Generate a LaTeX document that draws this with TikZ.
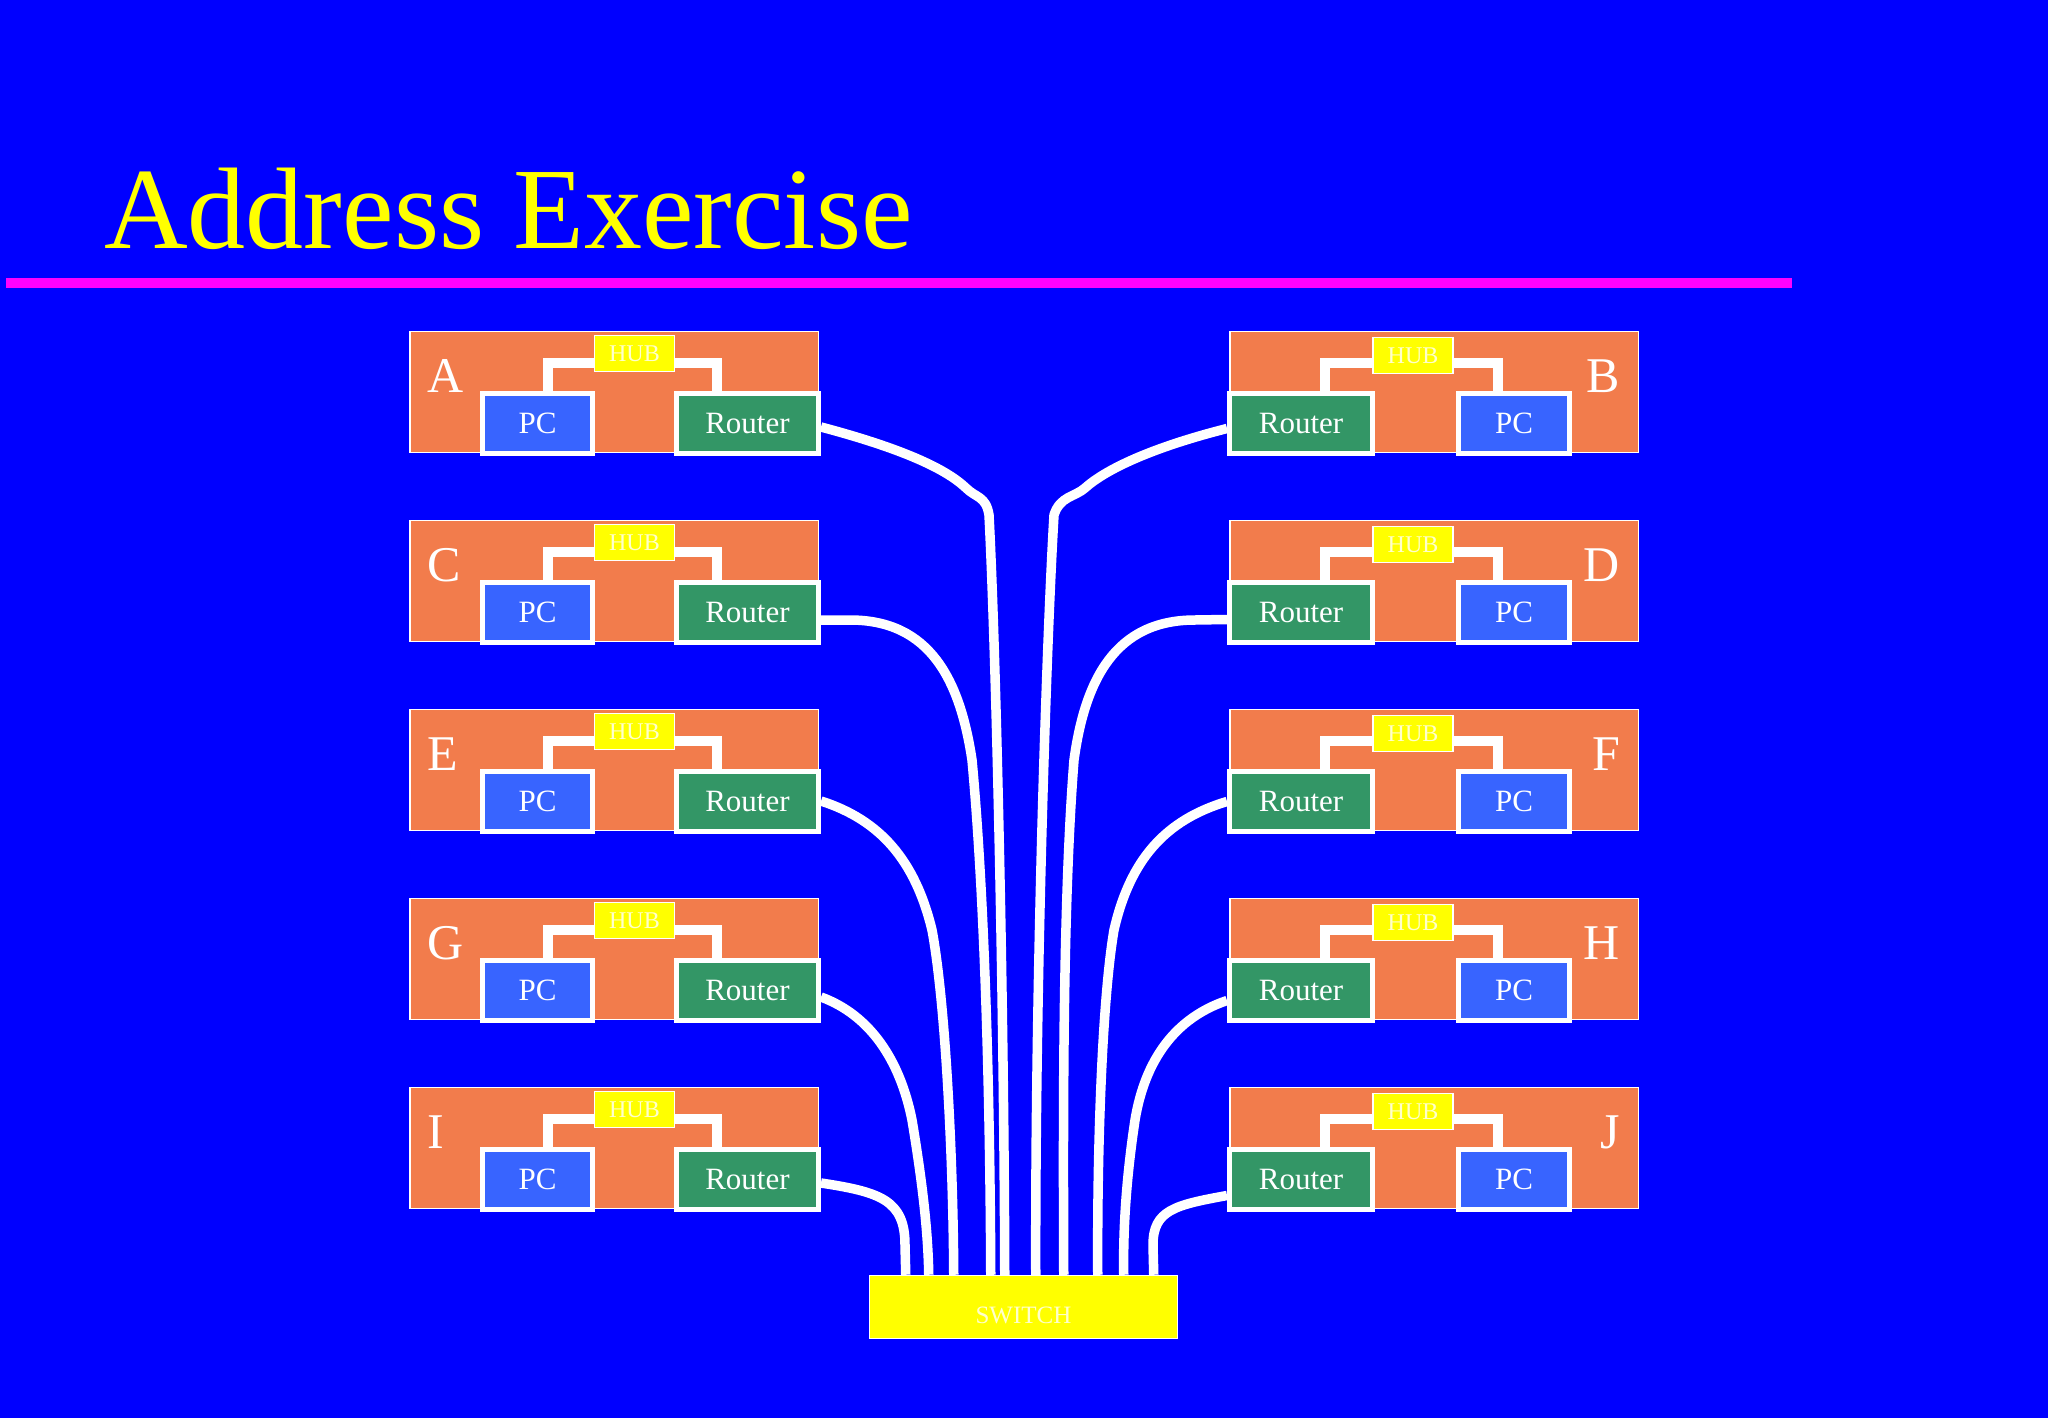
\documentclass[tikz,border=0pt]{standalone}
\usepackage{fontspec}
\setmainfont{Liberation Serif}
\usetikzlibrary{calc}
\definecolor{bg}{RGB}{0,0,255}
\definecolor{org}{RGB}{242,124,76}
\definecolor{pcblue}{RGB}{56,100,255}
\definecolor{rtgreen}{RGB}{51,150,102}
\definecolor{hubyel}{RGB}{255,255,0}
\definecolor{hubtxt}{RGB}{255,255,205}
\definecolor{mag}{RGB}{255,0,255}
\begin{document}
\begin{tikzpicture}[x=1pt,y=-1pt,
 block/.style={draw=white, line width=1.5pt, fill=org, minimum width=408.5pt, minimum height=121pt, inner sep=0pt},
 pcbox/.style={draw=white, line width=5pt, fill=pcblue, text=white, minimum width=110pt, minimum height=60pt, inner sep=0pt, font=\fontsize{31}{31}\selectfont},
 rtbox/.style={pcbox, fill=rtgreen, minimum width=142pt},
 hubbox/.style={draw=white, line width=1.5pt, fill=hubyel, text=hubtxt, minimum width=80pt, minimum height=36pt, inner sep=0pt, font=\fontsize{24}{24}\selectfont},
 letter/.style={text=white, inner sep=0pt, font=\fontsize{50}{50}\selectfont},
 wire/.style={white, line width=10pt},
 cable/.style={white, line width=9.5pt},
]
\fill[bg] (0,0) rectangle (2048,1418);
\useasboundingbox (0,0) rectangle (2048,1418);

\node[anchor=base west, inner sep=0pt, text=hubyel, font=\fontsize{116}{116}\selectfont] (title) at (104,248) {Address Exercise};
\draw[mag, line width=10pt] (6,283) -- (1792,283);

\foreach \r/\lname/\rname in {0/A/B,1/C/D,2/E/F,3/G/H,4/I/J}{
  \pgfmathsetmacro{\T}{331+189*\r}
  % left block
  \node[block] (blk\lname) at (614,\T+61) {};
  \node[hubbox] (hub\lname) at (634.5,\T+22.5) {HUB};
  \node[pcbox] (pc\lname) at (537.5,\T+92) {PC};
  \node[rtbox] (rt\lname) at (747.5,\T+92) {Router};
  \node[letter, anchor=base west] (lbl\lname) at (427,\T+61) {\lname};
  \draw[wire] ($(pc\lname.north)+(10.5,0)$) |- ($(hub\lname.west)+(0,9.5)$);
  \draw[wire] ($(hub\lname.east)+(0,9.5)$) -| ($(rt\lname.north)+(-30.5,0)$);
  % right block
  \node[block] (blk\rname) at (1434,\T+61) {};
  \node[hubbox] (hub\rname) at (1413,\T+24.5) {HUB};
  \node[rtbox, minimum width=143pt] (rt\rname) at (1301,\T+92.5) {Router};
  \node[pcbox, minimum width=111pt] (pc\rname) at (1514,\T+92.5) {PC};
  \node[letter, anchor=base east] (lbl\rname) at (1620,\T+61) {\rname};
  \draw[wire] ($(rt\rname.north)+(24,0)$) |- ($(hub\rname.west)+(0,7.5)$);
  \draw[wire] ($(hub\rname.east)+(0,7.5)$) -| ($(pc\rname.north)+(-16,0)$);
}

\node[draw=white, line width=1.5pt, fill=hubyel, text=hubtxt, minimum width=308pt, minimum height=63pt, inner sep=0pt, text height=32pt, text depth=0pt, font=\fontsize{25}{25}\selectfont] (sw) at (1023.5,1307) {SWITCH};

% cables
\draw[cable] ($(rtA.east)+(0,4)$) .. controls (900,448) and (945,468) .. (966,488) .. controls (976,498) and (986,496) .. (989,515) .. controls (996,650) and (1004,1000) .. ($(sw.north west)+(136,0)$);
\draw[cable] ($(rtB.west)+(0,5)$) .. controls (1150,448) and (1105,470) .. (1085,488) .. controls (1075,497) and (1060,496) .. (1054,515) .. controls (1046,650) and (1035,1000) .. ($(sw.north west)+(167,0)$);
\draw[cable] ($(rtC.east)+(0,8)$) -- (850,620) .. controls (930,620) and (960,680) .. (972,760) .. controls (985,900) and (990,1100) .. ($(sw.north west)+(122,0)$);
\draw[cable] ($(rtD.west)+(0,7)$) -- (1195,620) .. controls (1115,620) and (1085,680) .. (1074,760) .. controls (1063,900) and (1063,1100) .. ($(sw.north west)+(195,0)$);
\draw[cable] (rtE.east) .. controls (880,820) and (915,860) .. (932,930) .. controls (945,1000) and (953,1150) .. ($(sw.north west)+(85,0)$);
\draw[cable] (rtF.west) .. controls (1165,820) and (1130,860) .. (1114,930) .. controls (1102,1000) and (1097,1150) .. ($(sw.north west)+(229,0)$);
\draw[cable] ($(rtG.east)+(0,7)$) .. controls (870,1015) and (900,1060) .. (912,1120) .. controls (922,1180) and (928,1230) .. ($(sw.north west)+(60,0)$);
\draw[cable] ($(rtH.west)+(0,10)$) .. controls (1175,1018) and (1145,1060) .. (1135,1120) .. controls (1126,1180) and (1123,1230) .. ($(sw.north west)+(255,0)$);
\draw[cable] ($(rtI.east)+(0,4)$) .. controls (880,1192) and (905,1200) .. (905,1245) -- ($(sw.north west)+(37,0)$);
\draw[cable] ($(rtJ.west)+(0,16)$) .. controls (1175,1205) and (1153,1210) .. (1153,1245) -- ($(sw.north west)+(285,0)$);
\end{tikzpicture}
\end{document}
